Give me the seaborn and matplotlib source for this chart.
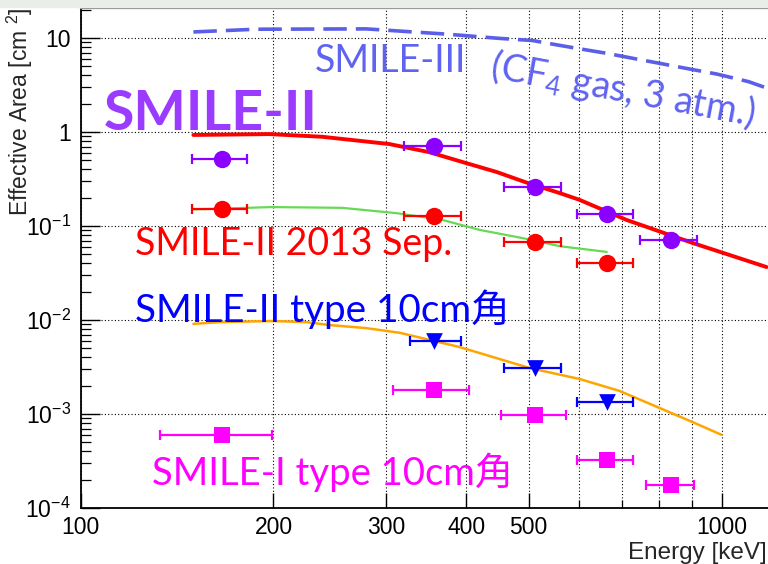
import numpy as np
import pandas as pd
import matplotlib
matplotlib.use("Agg")
import matplotlib.pyplot as plt
from matplotlib.patches import Rectangle
from matplotlib.ticker import NullFormatter, FixedLocator
import seaborn as sns

# ---------------- data ----------------
# SMILE-III (CF4 gas, 3 atm.) simulation, dashed
s3_energy = [150, 188, 279, 330, 372, 405, 451, 507, 555, 607, 662, 727, 800, 891, 982, 1102, 1175]
s3_area = [11.6, 12.4, 12.5, 11.6, 11.0, 10.5, 9.9, 9.4, 8.42, 7.58, 6.87, 6.08, 5.38, 4.68, 4.14, 3.43, 2.94]

# SMILE-II simulation (red line)
s2_sim_energy = [150, 197, 238, 303, 350, 394, 446, 496, 559, 600, 711, 901, 1175]
s2_sim_area = [0.93, 0.95, 0.89, 0.745, 0.61, 0.48, 0.375, 0.29, 0.224, 0.19, 0.116, 0.066, 0.0366]

# SMILE-II 2013 Sep. simulation (green line)
sep_sim_energy = [150, 199, 256, 311, 367, 419, 496, 559, 662]
sep_sim_area = [0.15, 0.159, 0.156, 0.137, 0.116, 0.091, 0.073, 0.061, 0.053]

# SMILE-II type 10cm simulation (orange line)
t10_sim_energy = [150, 165, 199, 225, 244, 279, 315, 390, 502, 600, 693, 800, 901, 1000]
t10_sim_area = [0.0091, 0.0095, 0.00975, 0.0095, 0.00885, 0.0082, 0.0073, 0.00516, 0.00308,
                0.00236, 0.00176, 0.00116, 0.00082, 0.0006]

# measured points: energy, area, x-range low/high
s2_energy = [166, 356, 511, 662, 835]
s2_area = [0.516, 0.71, 0.26, 0.134, 0.071]
s2_lo = [149, 320, 458, 594, 747]
s2_hi = [182, 392, 562, 727, 917]

sep_energy = [166, 356, 511, 662]
sep_area = [0.152, 0.128, 0.0676, 0.040]
sep_lo = [149, 320, 458, 594]
sep_hi = [182, 392, 562, 727]

t10_energy = [356, 511, 662]
t10_area = [0.0060, 0.00308, 0.00134]
t10_lo = [326, 458, 594]
t10_hi = [392, 562, 727]

s1_energy = [166, 356, 511, 662, 835]
s1_area = [0.000598, 0.0018, 0.000975, 0.000324, 0.000176]
s1_lo = [133, 307, 452, 594, 761]
s1_hi = [199, 403, 571, 727, 907]

xtick_vals = [100, 200, 300, 400, 500, 1000]
xtick_labels = ["100", "200", "300", "400", "500", "1000"]
ytick_vals = [1e-4, 1e-3, 1e-2, 1e-1, 1, 10]
ytick_labels = [r"10$^{\mathregular{-4}}$", r"10$^{\mathregular{-3}}$", r"10$^{\mathregular{-2}}$",
                r"10$^{\mathregular{-1}}$", "1", "10"]

# ---------------- style ----------------
sns.set_theme(style="ticks")
plt.rcParams["font.family"] = ["Liberation Sans", "DejaVu Sans"]
plt.rcParams["mathtext.fontset"] = "custom"
plt.rcParams["mathtext.rm"] = "Liberation Sans"
plt.rcParams["mathtext.it"] = "Liberation Sans:italic"
plt.rcParams["mathtext.bf"] = "Liberation Sans:bold"

TXT_FAM = ["Lato", "Noto Sans CJK JP", "DejaVu Sans"]

W, H = 768, 564
def fx(x):
    return x / W
def fy(y):
    return 1 - y / H

fig = plt.figure(figsize=(W / 100, H / 100), dpi=100)
fig.patch.set_facecolor("white")
fig.patches.append(Rectangle((0, fy(7)), 1, 1 - fy(7), transform=fig.transFigure,
                             color="#e9eee9", zorder=0))

ax = fig.add_axes([80.5 / W, 1 - 508 / H, 754 / W, 500 / H])
ax.set_xscale("log")
ax.set_yscale("log")
ax.set_xlim(100, 1500)
ax.set_ylim(1e-4, 20.85)

# grid
ax.xaxis.set_minor_locator(FixedLocator([600, 700, 800, 900, 2000]))
ax.grid(True, which="major", axis="both", color="black", lw=0.8, ls=(0, (1, 2)))
ax.grid(True, which="minor", axis="x", color="black", lw=0.8, ls=(0, (1, 2)))

# simulation lines
sns.lineplot(x=s3_energy, y=s3_area, ax=ax, color="#5b5fe8", lw=2.6,
             linestyle=(0, (6.5, 2.5)), zorder=3)
sns.lineplot(x=s2_sim_energy, y=s2_sim_area, ax=ax, color="#ff0000", lw=2.8, zorder=3)
sns.lineplot(x=sep_sim_energy, y=sep_sim_area, ax=ax, color="#66d955", lw=1.6, zorder=3)
sns.lineplot(x=t10_sim_energy, y=t10_sim_area, ax=ax, color="#ffa500", lw=1.8, zorder=3)

# measured points
def points(e, a, lo, hi, color, marker, size):
    e = np.array(e, float)
    ax.errorbar(e, a, xerr=[e - np.array(lo), np.array(hi) - e], fmt="none",
                ecolor=color, elinewidth=1.6, capsize=3.5, capthick=1.6, zorder=4)
    sns.scatterplot(x=e, y=a, ax=ax, color=color, marker=marker, s=size ** 2,
                    linewidth=0, zorder=5)

points(s2_energy, s2_area, s2_lo, s2_hi, "#8b00ff", "o", 12.5)
points(sep_energy, sep_area, sep_lo, sep_hi, "#ff0000", "o", 12.5)
points(t10_energy, t10_area, t10_lo, t10_hi, "#0000ff", "v", 12)
points(s1_energy, s1_area, s1_lo, s1_hi, "#ff00ff", "s", 12)

# ticks
ax.set_xticks(xtick_vals)
ax.set_xticklabels(xtick_labels)
ax.xaxis.set_minor_formatter(NullFormatter())
ax.set_yticks(ytick_vals)
ax.set_yticklabels(ytick_labels)
ax.yaxis.set_minor_formatter(NullFormatter())
ax.tick_params(axis="both", which="both", direction="in", colors="black",
               labelsize=16.5, left=True, bottom=True, top=False, right=False)
ax.tick_params(axis="y", which="major", length=14, width=1.0, pad=7)
ax.tick_params(axis="y", which="minor", length=7, width=0.9)
ax.tick_params(axis="x", which="major", length=11, width=1.0, pad=6)
ax.tick_params(axis="x", which="minor", length=6, width=0.9)

for s in ["left", "bottom"]:
    ax.spines[s].set_color("black")
    ax.spines[s].set_linewidth(1.3)
ax.spines["top"].set_color("#888888")
ax.spines["top"].set_linewidth(1.6)
ax.spines["right"].set_visible(False)
ax.set_xlabel("")
ax.set_ylabel("")

# axis titles
fig.text(fx(767), fy(559), "Energy [keV]", ha="right", va="baseline", fontsize=17.5)
fig.text(fx(20), fy(8), r"Effective Area [cm $^{\mathregular{2}}$]", rotation=90,
         ha="center", va="top", fontsize=16.5)

# annotations
fig.text(fx(104), fy(130), "SMILE-II", fontsize=40, fontweight="bold", color="#9b3bff",
         family=TXT_FAM, ha="left", va="baseline")
fig.text(fx(315), fy(72), "SMILE-III", fontsize=27, color="#5f63f0",
         family=TXT_FAM, ha="left", va="baseline")
fig.text(fx(489), fy(77), r"(CF$_\mathregular{4}$ gas, 3 atm.)", fontsize=27, color="#5f63f0",
         family=TXT_FAM, ha="left", va="baseline", rotation=-10.5, rotation_mode="anchor")
fig.text(fx(135), fy(255), "SMILE-II 2013 Sep.", fontsize=27, color="#ff0000",
         family=TXT_FAM, ha="left", va="baseline")
fig.text(fx(135), fy(322), "SMILE-II type 10cm角", fontsize=27.8, color="#0000ff",
         family=TXT_FAM, ha="left", va="baseline")
fig.text(fx(152), fy(485), "SMILE-I type 10cm角", fontsize=27.5, color="#ff00ff",
         family=TXT_FAM, ha="left", va="baseline")

fig.savefig("out.png", dpi=100)
